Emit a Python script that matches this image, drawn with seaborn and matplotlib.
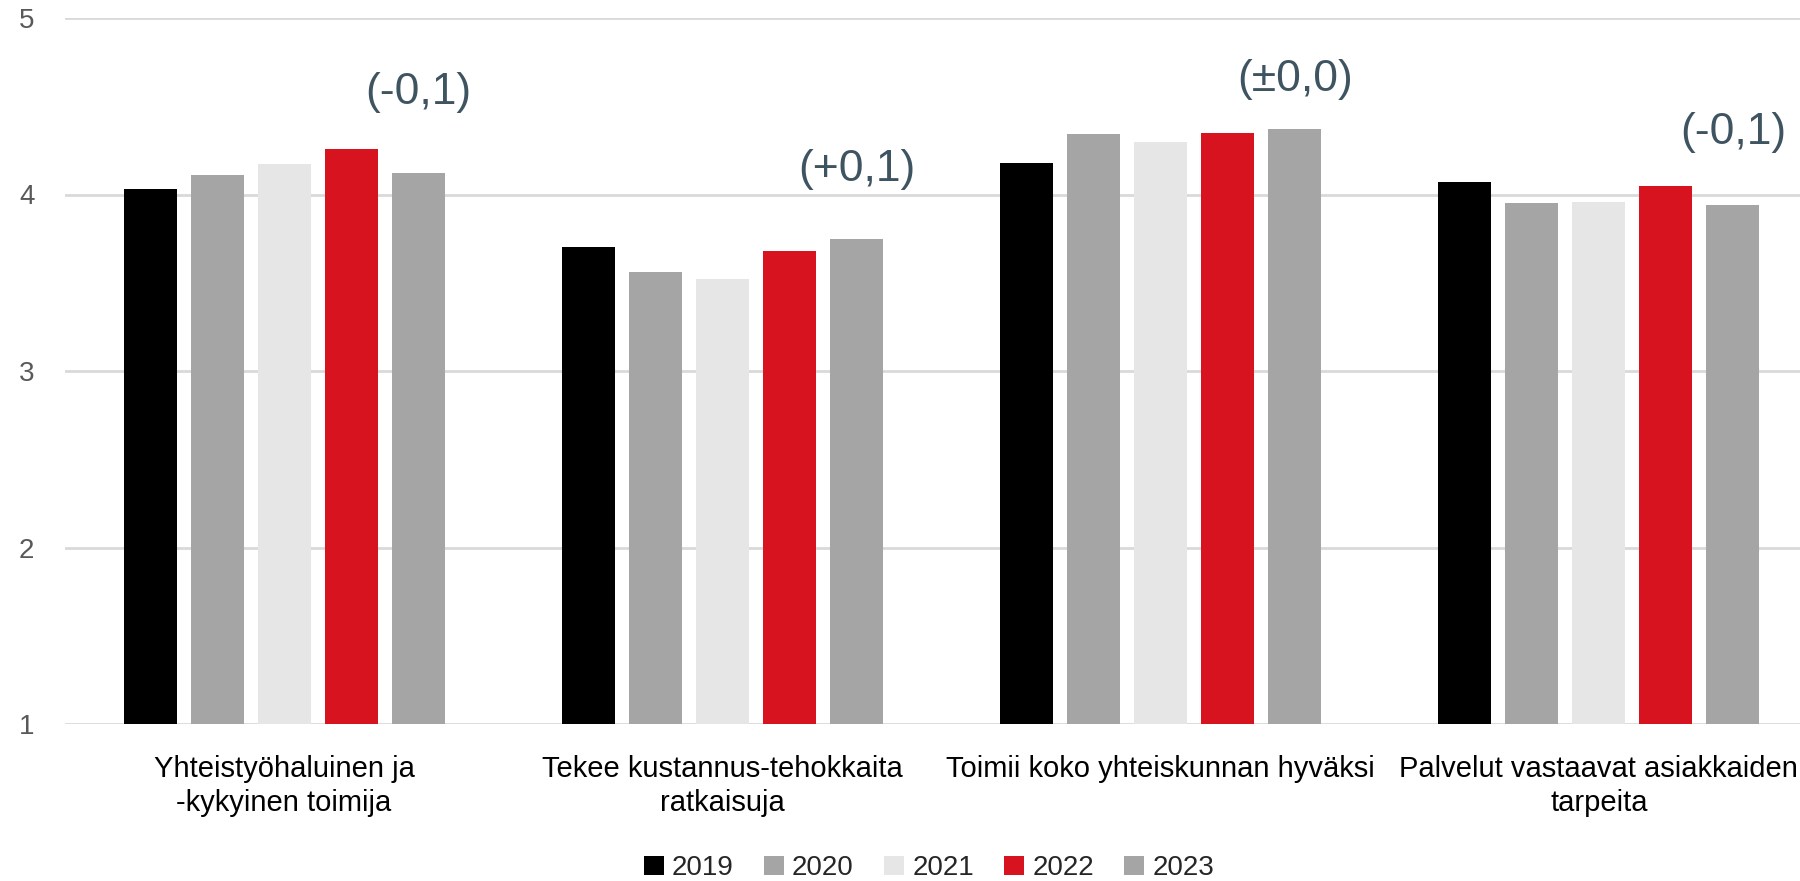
import pandas as pd
import matplotlib
matplotlib.use("Agg")
import matplotlib.pyplot as plt
import seaborn as sns

# Data
categories = [
    "Yhteistyöhaluinen ja\n-kykyinen toimija",
    "Tekee kustannus-tehokkaita\nratkaisuja",
    "Toimii koko yhteiskunnan hyväksi",
    "Palvelut vastaavat asiakkaiden\ntarpeita",
]
years = ["2019", "2020", "2021", "2022", "2023"]
v2019 = [4.03, 3.70, 4.18, 4.07]
v2020 = [4.11, 3.56, 4.34, 3.95]
v2021 = [4.17, 3.52, 4.30, 3.96]
v2022 = [4.26, 3.68, 4.35, 4.05]
v2023 = [4.12, 3.75, 4.37, 3.94]
changes = ["(-0,1)", "(+0,1)", "(±0,0)", "(-0,1)"]
change_y = [4.58, 4.14, 4.65, 4.35]

colors = {"2019": "#000000", "2020": "#A5A5A5", "2021": "#E6E6E6",
          "2022": "#D7131F", "2023": "#A5A5A5"}

rows = []
for year, vals in zip(years, [v2019, v2020, v2021, v2022, v2023]):
    for cat, v in zip(categories, vals):
        rows.append({"Kategoria": cat, "Vuosi": year, "Arvo": v})
df = pd.DataFrame(rows)

sns.set_theme(style="white")
plt.rcParams["font.family"] = ["Liberation Sans", "DejaVu Sans"]

fig = plt.figure(figsize=(18, 8.81), dpi=100)
ax = fig.add_axes([65 / 1800, 1 - 724 / 881, 1753 / 1800, (724 - 18) / 881])

sns.barplot(data=df, x="Kategoria", y="Arvo", hue="Vuosi", order=categories,
            hue_order=years, palette=colors, width=0.765, gap=0.21,
            saturation=1, ax=ax, legend=True, linewidth=0)

ax.set_xlim(-0.5, 3.5)
ax.set_ylim(1, 5)
ax.set_yticks([1, 2, 3, 4, 5])
ax.yaxis.grid(True, color="#D9D9D9", linewidth=2)
ax.set_axisbelow(True)
for s in ax.spines.values():
    s.set_visible(False)
ax.set_xlabel("")
ax.set_ylabel("")
ax.tick_params(axis="y", labelsize=20, labelcolor="#595959", length=0, pad=22)
ax.tick_params(axis="x", labelsize=21, labelcolor="#000000", length=0, pad=22)
for lbl in ax.get_xticklabels():
    lbl.set_linespacing(1.3)

# change labels above the 2023 bar of each group
dodge_2023 = 2 * 0.765 / 5
for i, (txt, y) in enumerate(zip(changes, change_y)):
    ax.text(i + dodge_2023, y, txt, ha="center", va="center",
            fontsize=32, color="#3F5461")

handles, labels = ax.get_legend_handles_labels()
ax.legend_.remove()
fig.legend(handles, labels, loc="center", bbox_to_anchor=(929 / 1800, 1 - 868 / 881),
           ncol=5, frameon=False, fontsize=20, handlelength=0.7, handleheight=0.7,
           handletextpad=0.3, columnspacing=1.1)

fig.savefig("out.png", dpi=100)
